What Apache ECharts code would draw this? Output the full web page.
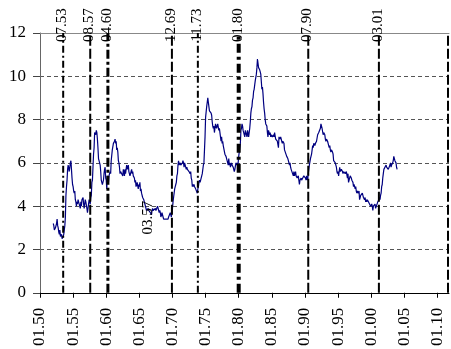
<!DOCTYPE html>
<html>
<head>
<meta charset="utf-8">
<script src="https://cdn.jsdelivr.net/npm/echarts@6/dist/echarts.min.js"></script>
<style>
  html, body { margin: 0; padding: 0; background: #fff; }
  #chart { width: 451px; height: 349px; }
</style>
</head>
<body>
<div id="chart"></div>
<script>
// Monthly unemployment rate (%), January 1952 onward, one row per year
const firstYear = 1952;
const monthlyRate = [
  3.2, 3.1, 2.9, 2.9, 3.0, 3.0, 3.2, 3.4, 3.1, 3.0, 2.8, 2.7,   // 1952
  2.9, 2.6, 2.6, 2.7, 2.5, 2.5, 2.6, 2.7, 2.9, 3.1, 3.5, 4.5,   // 1953
  4.9, 5.2, 5.7, 5.9, 5.9, 5.6, 5.8, 6.0, 6.1, 5.7, 5.3, 5.0,   // 1954
  4.9, 4.7, 4.6, 4.7, 4.3, 4.2, 4.0, 4.2, 4.1, 4.3, 4.2, 4.2,   // 1955
  4.0, 3.9, 4.2, 4.0, 4.3, 4.3, 4.4, 4.1, 3.9, 3.9, 4.3, 4.2,   // 1956
  4.2, 3.9, 3.7, 3.9, 4.1, 4.3, 4.2, 4.1, 4.4, 4.5, 5.1, 5.2,   // 1957
  5.8, 6.4, 6.7, 7.4, 7.4, 7.3, 7.5, 7.4, 7.1, 6.7, 6.2, 6.2,   // 1958
  6.0, 5.9, 5.6, 5.2, 5.1, 5.0, 5.1, 5.2, 5.5, 5.7, 5.8, 5.3,   // 1959
  5.2, 4.8, 5.4, 5.2, 5.1, 5.4, 5.5, 5.6, 5.5, 6.1, 6.1, 6.6,   // 1960
  6.6, 6.9, 6.9, 7.0, 7.1, 6.9, 7.0, 6.6, 6.7, 6.5, 6.1, 6.0,   // 1961
  5.8, 5.5, 5.6, 5.6, 5.5, 5.5, 5.4, 5.7, 5.6, 5.4, 5.7, 5.5,   // 1962
  5.7, 5.9, 5.7, 5.7, 5.9, 5.6, 5.6, 5.4, 5.5, 5.5, 5.7, 5.5,   // 1963
  5.6, 5.4, 5.4, 5.3, 5.1, 5.2, 4.9, 5.0, 5.1, 5.1, 4.8, 5.0,   // 1964
  4.9, 5.1, 4.7, 4.8, 4.6, 4.6, 4.4, 4.4, 4.3, 4.2, 4.1, 4.0,   // 1965
  4.0, 3.8, 3.8, 3.8, 3.9, 3.8, 3.8, 3.8, 3.7, 3.7, 3.6, 3.8,   // 1966
  3.9, 3.8, 3.8, 3.8, 3.8, 3.9, 3.8, 3.8, 3.8, 4.0, 3.9, 3.8,   // 1967
  3.7, 3.8, 3.7, 3.5, 3.5, 3.7, 3.7, 3.5, 3.4, 3.4, 3.4, 3.4,   // 1968
  3.4, 3.4, 3.4, 3.4, 3.4, 3.5, 3.5, 3.5, 3.7, 3.7, 3.5, 3.5,   // 1969
  3.9, 4.2, 4.4, 4.6, 4.8, 4.9, 5.0, 5.1, 5.4, 5.5, 5.9, 6.1,   // 1970
  5.9, 5.9, 6.0, 5.9, 5.9, 5.9, 6.0, 6.1, 6.0, 5.8, 6.0, 6.0,   // 1971
  5.8, 5.7, 5.8, 5.7, 5.7, 5.7, 5.6, 5.6, 5.5, 5.6, 5.3, 5.2,   // 1972
  4.9, 5.0, 4.9, 5.0, 4.9, 4.9, 4.8, 4.8, 4.8, 4.6, 4.8, 4.9,   // 1973
  5.1, 5.2, 5.1, 5.1, 5.1, 5.4, 5.5, 5.5, 5.9, 6.0, 6.6, 7.2,   // 1974
  8.1, 8.1, 8.6, 8.8, 9.0, 8.8, 8.6, 8.4, 8.4, 8.4, 8.3, 8.2,   // 1975
  7.9, 7.7, 7.6, 7.7, 7.4, 7.6, 7.8, 7.8, 7.6, 7.7, 7.8, 7.8,   // 1976
  7.5, 7.6, 7.4, 7.2, 7.0, 7.2, 6.9, 7.0, 6.8, 6.8, 6.8, 6.4,   // 1977
  6.4, 6.3, 6.3, 6.1, 6.0, 5.9, 6.2, 5.9, 6.0, 5.8, 5.9, 6.0,   // 1978
  5.9, 5.9, 5.8, 5.8, 5.6, 5.7, 5.7, 6.0, 5.9, 6.0, 5.9, 6.0,   // 1979
  6.3, 6.3, 6.3, 6.9, 7.5, 7.6, 7.8, 7.7, 7.5, 7.5, 7.5, 7.2,   // 1980
  7.5, 7.4, 7.4, 7.2, 7.5, 7.5, 7.2, 7.4, 7.6, 7.9, 8.3, 8.5,   // 1981
  8.6, 8.9, 9.0, 9.3, 9.4, 9.6, 9.8, 9.8, 10.1, 10.4, 10.8, 10.8, // 1982
  10.4, 10.4, 10.3, 10.2, 10.1, 10.1, 9.4, 9.5, 9.2, 8.8, 8.5, 8.3, // 1983
  8.0, 7.8, 7.8, 7.7, 7.4, 7.2, 7.5, 7.5, 7.3, 7.4, 7.2, 7.3,   // 1984
  7.3, 7.2, 7.2, 7.3, 7.2, 7.4, 7.4, 7.1, 7.1, 7.1, 7.0, 7.0,   // 1985
  6.7, 7.2, 7.2, 7.1, 7.2, 7.2, 7.0, 6.9, 7.0, 7.0, 6.9, 6.6,   // 1986
  6.6, 6.6, 6.6, 6.3, 6.3, 6.2, 6.1, 6.0, 5.9, 6.0, 5.8, 5.7,   // 1987
  5.7, 5.7, 5.7, 5.4, 5.6, 5.4, 5.4, 5.6, 5.4, 5.4, 5.3, 5.3,   // 1988
  5.4, 5.2, 5.0, 5.2, 5.2, 5.3, 5.2, 5.2, 5.3, 5.3, 5.4, 5.4,   // 1989
  5.4, 5.3, 5.2, 5.4, 5.4, 5.2, 5.5, 5.7, 5.9, 5.9, 6.2, 6.3,   // 1990
  6.4, 6.6, 6.8, 6.7, 6.9, 6.9, 6.8, 6.9, 6.9, 7.0, 7.0, 7.3,   // 1991
  7.3, 7.4, 7.4, 7.4, 7.6, 7.8, 7.7, 7.6, 7.6, 7.3, 7.4, 7.4,   // 1992
  7.3, 7.1, 7.0, 7.1, 7.1, 7.0, 6.9, 6.8, 6.7, 6.8, 6.6, 6.5,   // 1993
  6.6, 6.6, 6.5, 6.4, 6.1, 6.1, 6.1, 6.0, 5.9, 5.8, 5.6, 5.5,   // 1994
  5.6, 5.4, 5.4, 5.8, 5.6, 5.6, 5.7, 5.7, 5.6, 5.5, 5.6, 5.6,   // 1995
  5.6, 5.5, 5.5, 5.6, 5.6, 5.3, 5.5, 5.1, 5.2, 5.2, 5.4, 5.4,   // 1996
  5.3, 5.2, 5.2, 5.1, 4.9, 5.0, 4.9, 4.8, 4.9, 4.7, 4.6, 4.7,   // 1997
  4.6, 4.6, 4.7, 4.3, 4.4, 4.5, 4.5, 4.5, 4.6, 4.5, 4.4, 4.4,   // 1998
  4.3, 4.4, 4.2, 4.3, 4.2, 4.3, 4.3, 4.2, 4.2, 4.1, 4.1, 4.0,   // 1999
  4.0, 4.1, 4.0, 3.8, 4.0, 4.0, 4.0, 4.1, 3.9, 3.9, 3.9, 3.9,   // 2000
  4.2, 4.2, 4.3, 4.4, 4.3, 4.5, 4.6, 4.9, 5.0, 5.3, 5.5, 5.7,   // 2001
  5.7, 5.7, 5.7, 5.9, 5.8, 5.8, 5.8, 5.7, 5.7, 5.7, 5.9, 6.0,   // 2002
  5.8, 5.9, 5.9, 6.0, 6.1, 6.3, 6.2, 6.1, 6.1, 6.0, 5.8, 5.7    // 2003
];

// Turning-point dates (month.year) marked by vertical lines
const turningDates = ['07.53', '08.57', '04.60', '12.69', '11.73', '01.80', '07.90', '03.01'];
// Stroke width and dash pattern of each vertical line
const turningStyles = [
  { w: 2, dash: [7, 3, 2, 3] },
  { w: 2, dash: [10, 3] },
  { w: 3, dash: [9, 3, 3, 3] },
  { w: 2, dash: [10, 3] },
  { w: 2, dash: [7, 3, 2, 3] },
  { w: 4, dash: [9, 4, 3, 4] },
  { w: 2, dash: [10, 3] },
  { w: 2, dash: [10, 3] }
];
// Free-standing note inside the plot: text and its [year, value] anchor
const noteText = '03.57';
const noteAt = [1966.3, 3.47];

// Axis ranges
const xMin = 1950, xMax = 2011.75, xStep = 5;
const yMin = 0, yMax = 12, yStep = 2;

function dateToYear(s) {
  const [mm, yy] = s.split('.').map(Number);
  const year = yy < 30 ? 2000 + yy : 1900 + yy;
  return year + (mm - 1) / 12;
}

const linePoints = monthlyRate.map((v, i) => [firstYear + i / 12, v]);
const turningPoints = turningDates.map((d, i) => [dateToYear(d), i]);

const serif = '"Liberation Serif", "Times New Roman", serif';

const chart = echarts.init(document.getElementById('chart'), null, { renderer: 'canvas' });
chart.setOption({
  animation: false,
  backgroundColor: '#fff',
  grid: { left: 40, top: 33, right: 2, bottom: 56, containLabel: false },
  xAxis: [
    {
      type: 'value', min: xMin, max: xMax, interval: xStep,
      axisLine: { show: true, lineStyle: { color: '#000', width: 1 } },
      axisTick: { show: true, length: 5, lineStyle: { color: '#000' } },
      axisLabel: {
        rotate: 90, margin: 15, color: '#000',
        fontFamily: serif, fontSize: 17,
        showMaxLabel: false,
        formatter: v => (Math.abs(v % 5) < 1e-6 ? '01.' + String(Math.round(v) % 100).padStart(2, '0') : '')
      },
      splitLine: { show: false }
    },
    {
      type: 'value', position: 'top', min: xMin, max: xMax,
      axisLine: { show: true, lineStyle: { color: '#888', width: 1 } },
      axisTick: { show: false }, axisLabel: { show: false }, splitLine: { show: false }
    }
  ],
  yAxis: {
    type: 'value', min: yMin, max: yMax, interval: yStep,
    axisLine: { show: true, lineStyle: { color: '#666', width: 1 } },
    axisTick: { show: true, length: 7, lineStyle: { color: '#444' } },
    axisLabel: { margin: 14, color: '#000', fontFamily: serif, fontSize: 17 },
    splitLine: { show: true, lineStyle: { color: '#555', width: 1, type: [4, 3] } }
  },
  series: [
    {
      type: 'line',
      data: linePoints,
      showSymbol: false,
      lineStyle: { color: '#000080', width: 1.2 },
      z: 2
    },
    {
      type: 'custom',
      data: turningPoints,
      clip: false,
      z: 5,
      renderItem(params, api) {
        const x = api.coord([api.value(0), 0])[0];
        const yBottom = api.coord([xMin, yMin])[1];
        const yTop = api.coord([xMin, yMax])[1];
        const st = turningStyles[params.dataIndex];
        return {
          type: 'group',
          children: [
            {
              type: 'line',
              shape: { x1: x, y1: yBottom, x2: x, y2: yTop },
              style: { stroke: '#000', lineWidth: st.w, lineDash: st.dash }
            },
            {
              type: 'text',
              x: x - 1, y: yTop - 8,
              rotation: Math.PI / 2,
              style: {
                text: turningDates[params.dataIndex],
                font: '15px ' + serif, fill: '#000',
                align: 'center', verticalAlign: 'middle'
              }
            }
          ]
        };
      }
    },
    {
      // dashed right-hand frame line
      type: 'custom',
      data: [[xMax]],
      clip: false,
      z: 5,
      renderItem(params, api) {
        const x = api.coord([api.value(0), 0])[0] - 1;
        const yBottom = api.coord([xMin, yMin])[1];
        const yTop = api.coord([xMin, yMax])[1];
        return {
          type: 'line',
          shape: { x1: x, y1: yBottom, x2: x, y2: yTop },
          style: { stroke: '#000', lineWidth: 2, lineDash: [10, 3] }
        };
      }
    },
    {
      type: 'custom',
      data: [noteAt],
      clip: false,
      z: 4,
      renderItem(params, api) {
        const p = api.coord([api.value(0), api.value(1)]);
        return {
          type: 'text', x: p[0], y: p[1], rotation: Math.PI / 2,
          style: {
            text: noteText, font: '15px ' + serif, fill: '#000',
            align: 'center', verticalAlign: 'middle'
          }
        };
      }
    }
  ]
});
</script>
</body>
</html>
